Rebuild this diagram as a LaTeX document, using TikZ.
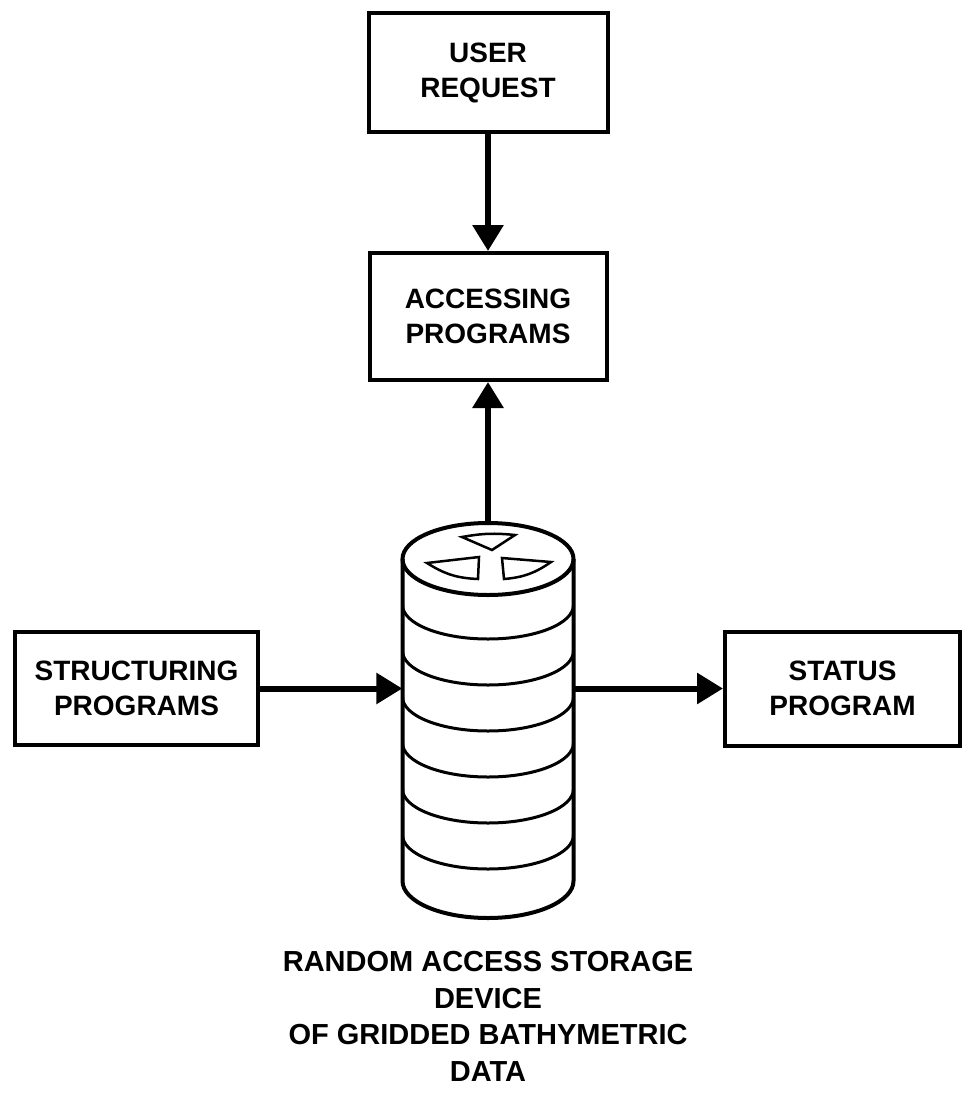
\documentclass[tikz,border=0pt]{standalone}
\usepackage{fontspec}
\setmainfont{Liberation Sans}
\usetikzlibrary{arrows.meta}
\tikzset{box/.style={draw, line width=4pt, align=center, minimum width=239pt, minimum height=119pt, font=\fontsize{28}{35}\selectfont\bfseries}}
\tikzset{flow/.style={line width=6pt}}
\tikzset{note/.style={align=center, font=\fontsize{29}{36.7}\selectfont\bfseries}}
\begin{document}
\begin{tikzpicture}[x=1pt, y=1pt, >={Triangle[length=26pt,width=30pt]}]
    \useasboundingbox (0,0) rectangle (962,-1095);
    \node [box] (user) at (488,-72.5) {USER\\REQUEST};
    \node [box, minimum width=237pt, minimum height=127pt] (access) at (488,-316.5) {ACCESSING\\PROGRAMS}
      edge [<-, flow] (user);
    \node [minimum width=171pt, minimum height=394pt, inner sep=0pt] (disk) at (488,-720) {}
      edge [->, flow] (access);
    \node [box, minimum width=243pt, minimum height=113pt] (struct) at (136.5,-688.5) {STRUCTURING\\PROGRAMS}
      edge [->, flow] (struct.east -| disk.west);
    \node [box, minimum width=235pt, minimum height=114pt] (status) at (842.5,-688.5) {STATUS\\PROGRAM}
      edge [<-, flow] (status.west -| disk.east);
    \node [note] (caption) at (488,-1016.5) {RANDOM ACCESS STORAGE\\DEVICE\\OF GRIDDED BATHYMETRIC\\DATA};
    % the storage drum
    \begin{scope}[shift={(disk.center)}, line width=4pt]
      \draw (0,161) ellipse (85.5pt and 36pt);
      \draw (-85.5,161) -- (-85.5,-161) arc [start angle=180, end angle=360, x radius=85.5pt, y radius=37pt] -- (85.5,161);
      \foreach \k in {1,...,6}
        \draw [line width=3pt] (-85.5,{161-46*\k}) arc [start angle=180, end angle=360, x radius=85.5pt, y radius=34pt];
      \draw [line width=2.5pt] (-26,183) to [bend left=8] (27,185) -- (4,170) -- cycle;
      \draw [line width=2.5pt] (-10,141) to [bend left=15] (-61,157) -- (-9,163) -- cycle;
      \draw [line width=2.5pt] (16,141) to [bend right=15] (63,158) -- (14,162) -- cycle;
    \end{scope}
\end{tikzpicture}
\end{document}
